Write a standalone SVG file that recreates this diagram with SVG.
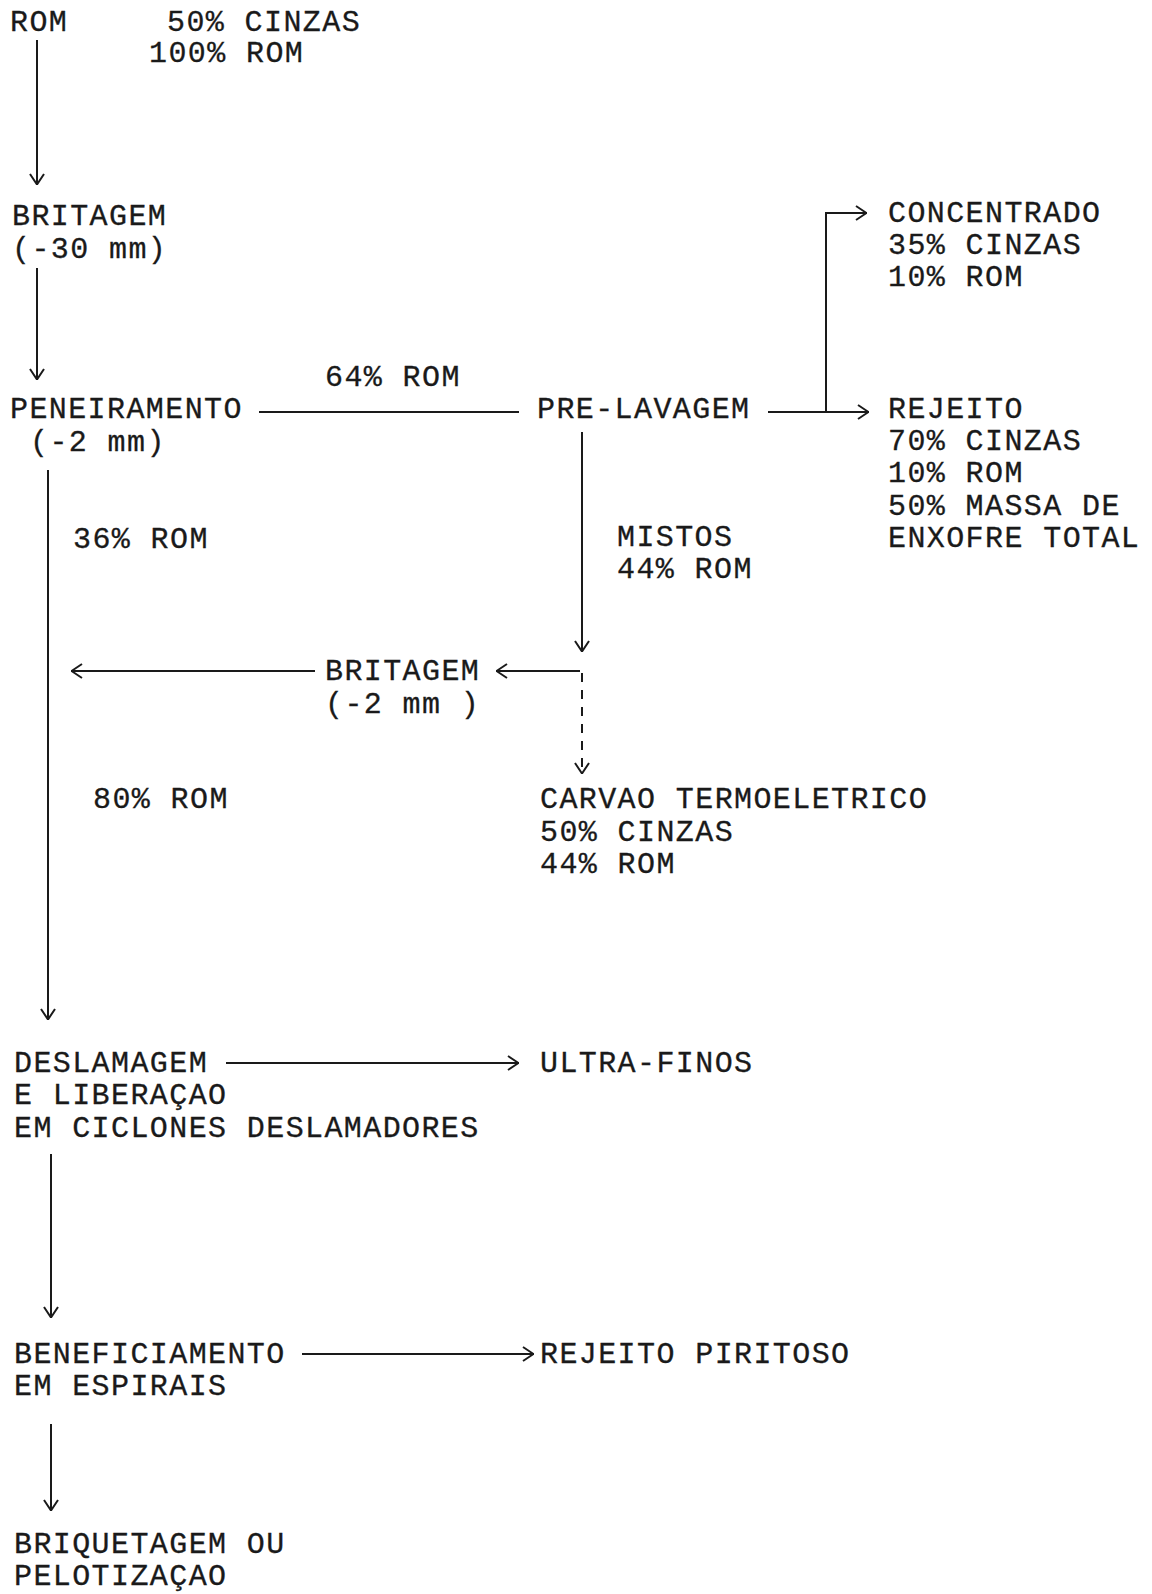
<svg xmlns="http://www.w3.org/2000/svg" width="1152" height="1594" viewBox="0 0 1152 1594">
<defs>
<style>
text{font-family:"Liberation Mono","DejaVu Sans Mono",monospace;font-size:30px;letter-spacing:1.4px;fill:#1a1a1a;stroke:#1a1a1a;stroke-width:0.3}
.c{stroke:#1a1a1a;stroke-width:2;fill:none}
.d{stroke-dasharray:9 8}
</style>
<marker id="a" viewBox="0 0 12 16" refX="12" refY="8" markerWidth="12" markerHeight="16" markerUnits="userSpaceOnUse" orient="auto">
<path d="M1,1 L11.5,8 L1,15" fill="none" stroke="#1a1a1a" stroke-width="2"/>
</marker>
</defs>
<rect width="1152" height="1594" fill="#fff"/>
<g id="connectors">
<line class="c" x1="37" y1="40" x2="37" y2="185" marker-end="url(#a)"/>
<line class="c" x1="37" y1="268" x2="37" y2="380" marker-end="url(#a)"/>
<line class="c" x1="259" y1="412" x2="519" y2="412"/>
<path class="c" d="M768,412 L869,412" marker-end="url(#a)"/>
<path class="c" d="M826,412 L826,213 L867,213" marker-end="url(#a)"/>
<line class="c" x1="582" y1="432" x2="582" y2="652" marker-end="url(#a)"/>
<line class="c" x1="580" y1="671" x2="496" y2="671" marker-end="url(#a)"/>
<line class="c" x1="315" y1="671" x2="71" y2="671" marker-end="url(#a)"/>
<line class="c d" x1="582" y1="673" x2="582" y2="774" marker-end="url(#a)"/>
<line class="c" x1="48" y1="470" x2="48" y2="1020" marker-end="url(#a)"/>
<line class="c" x1="226" y1="1063" x2="519" y2="1063" marker-end="url(#a)"/>
<line class="c" x1="51" y1="1154" x2="51" y2="1318" marker-end="url(#a)"/>
<line class="c" x1="302" y1="1354" x2="534" y2="1354" marker-end="url(#a)"/>
<line class="c" x1="51" y1="1424" x2="51" y2="1511" marker-end="url(#a)"/>
</g>
<g id="rom"><text x="10" y="31">ROM</text></g>
<g id="rom-info"><text x="167" y="31">50% CINZAS</text><text x="149" y="62">100% ROM</text></g>
<g id="britagem1"><text x="12" y="225">BRITAGEM</text><text x="12" y="258">(-30 mm)</text></g>
<g id="peneiramento"><text x="10" y="418">PENEIRAMENTO</text><text x="30" y="451">(-2 mm)</text></g>
<g id="lbl-64"><text x="325" y="386">64% ROM</text></g>
<g id="prelavagem"><text x="537" y="418">PRE-LAVAGEM</text></g>
<g id="concentrado"><text x="888" y="222">CONCENTRADO</text><text x="888" y="254">35% CINZAS</text><text x="888" y="286">10% ROM</text></g>
<g id="rejeito"><text x="888" y="418">REJEITO</text><text x="888" y="450">70% CINZAS</text><text x="888" y="482">10% ROM</text><text x="888" y="515">50% MASSA DE</text><text x="888" y="547">ENXOFRE TOTAL</text></g>
<g id="lbl-36"><text x="73" y="548">36% ROM</text></g>
<g id="lbl-mistos"><text x="617" y="546">MISTOS</text><text x="617" y="578">44% ROM</text></g>
<g id="britagem2"><text x="325" y="680">BRITAGEM</text><text x="325" y="713">(-2 mm )</text></g>
<g id="carvao"><text x="540" y="808">CARVAO TERMOELETRICO</text><text x="540" y="841">50% CINZAS</text><text x="540" y="873">44% ROM</text></g>
<g id="lbl-80"><text x="93" y="808">80% ROM</text></g>
<g id="deslamagem"><text x="14" y="1072">DESLAMAGEM</text><text x="14" y="1104">E LIBERAÇAO</text><text x="14" y="1137">EM CICLONES DESLAMADORES</text></g>
<g id="ultrafinos"><text x="540" y="1072">ULTRA-FINOS</text></g>
<g id="beneficiamento"><text x="14" y="1363">BENEFICIAMENTO</text><text x="14" y="1395">EM ESPIRAIS</text></g>
<g id="rejeito-piritoso"><text x="540" y="1363">REJEITO PIRITOSO</text></g>
<g id="briquetagem"><text x="14" y="1553">BRIQUETAGEM OU</text><text x="14" y="1585">PELOTIZAÇAO</text></g>
</svg>
